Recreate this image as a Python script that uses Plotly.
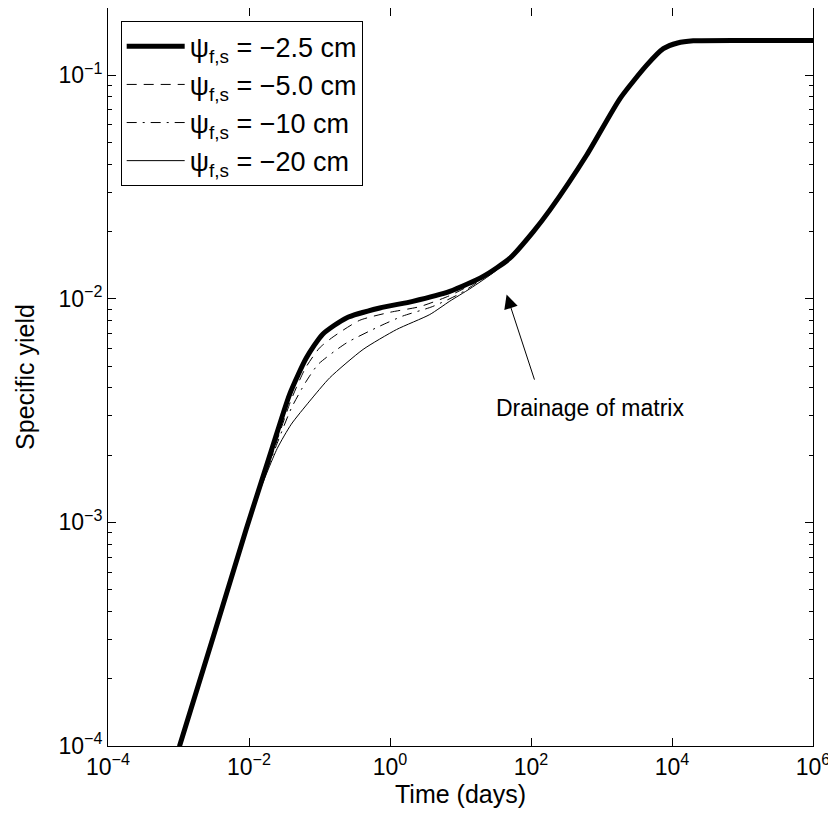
import plotly.graph_objects as go

# ---- data ----
series_names = [
    "ψ<sub>f,s</sub> = −2.5 cm",
    "ψ<sub>f,s</sub> = −5.0 cm",
    "ψ<sub>f,s</sub> = −10 cm",
    "ψ<sub>f,s</sub> = −20 cm",
]

time_early = [8.0e-4, 1.035e-3, 9.12e-3]
sy_early = [8.0e-5, 1.0e-4, 9.33e-4]

time_late = [186, 617, 1830, 4380, 7530, 12000, 20000, 100000, 1.0e6]
sy_late = [0.0250, 0.0440, 0.0787, 0.111, 0.1315, 0.1395, 0.1426, 0.1432, 0.1432]

time_thick = [0.0207, 0.0378, 0.0652, 0.111, 0.241, 0.716, 2.10, 7.06, 21.0, 50.2, 108]
sy_thick = [2.09e-3, 3.75e-3, 5.45e-3, 6.95e-3, 8.22e-3, 9.10e-3, 9.75e-3, 0.0108, 0.0126, 0.0152, 0.0200]

time_dash = [0.0126, 0.0251, 0.0398, 0.0631, 0.1, 0.156, 0.372, 1.0, 2.64, 7.08, 20.0, 50.1, 108]
sy_dash = [1.26e-3, 2.34e-3, 3.55e-3, 4.90e-3, 6.03e-3, 6.76e-3, 8.02e-3, 8.71e-3, 9.23e-3, 0.01035, 0.0123, 0.01507, 0.0200]

time_dashdot = [0.0126, 0.0251, 0.0398, 0.0631, 0.0955, 0.241, 0.716, 1.52, 3.98, 10.0, 25.1, 63.1, 126]
sy_dashdot = [1.26e-3, 2.26e-3, 3.24e-3, 4.22e-3, 5.09e-3, 6.35e-3, 7.55e-3, 8.38e-3, 9.23e-3, 0.01059, 0.01288, 0.0164, 0.0211]

time_thin = [0.0126, 0.0251, 0.0398, 0.0726, 0.140, 0.415, 1.236, 3.67, 7.06, 13.6, 31.6, 63.1, 126]
sy_thin = [1.26e-3, 2.14e-3, 2.75e-3, 3.49e-3, 4.44e-3, 5.94e-3, 7.29e-3, 8.51e-3, 9.77e-3, 0.0111, 0.01334, 0.0164, 0.0214]

x_tick_vals = [1e-4, 1e-2, 1e0, 1e2, 1e4, 1e6]
x_tick_text = ["10<sup>−4</sup>", "10<sup>−2</sup>", "10<sup>0</sup>", "10<sup>2</sup>", "10<sup>4</sup>", "10<sup>6</sup>"]
y_tick_vals = [1e-4, 1e-3, 1e-2, 1e-1]
y_tick_text = ["10<sup>−4</sup>", "10<sup>−3</sup>", "10<sup>−2</sup>", "10<sup>−1</sup>"]

x_range_exp = [-4, 6]
y_range_exp = [-4, -0.69897]

FONT = "Liberation Sans, Arial, Helvetica, sans-serif"

def full(t_mid, s_mid):
    return time_early + t_mid + time_late, sy_early + s_mid + sy_late

fig = go.Figure()
styles = [
    dict(width=5, dash="solid"),
    dict(width=1, dash="10px,7px"),
    dict(width=1, dash="10px,6px,2px,6px"),
    dict(width=1, dash="solid"),
]
mids = [(time_thick, sy_thick), (time_dash, sy_dash), (time_dashdot, sy_dashdot), (time_thin, sy_thin)]
for name, st, (tm, sm) in zip(series_names, styles, mids):
    t, s = full(tm, sm)
    fig.add_trace(go.Scatter(
        x=t, y=s, mode="lines", name=name,
        line=dict(color="black", width=st["width"], dash=st["dash"], shape="spline", smoothing=0.6),
    ))

fig.add_annotation(
    x=1.654, y=-1.981, ax=2.056, ay=-2.368, xref="x", yref="y", axref="x", ayref="y",
    text="", showarrow=True, arrowhead=2, arrowsize=2.8, arrowwidth=1, arrowcolor="black",
)
fig.add_annotation(
    x=2.837, y=-2.488, xref="x", yref="y", text="Drainage of matrix", showarrow=False,
    font=dict(family=FONT, size=23, color="black"),
)

axis_common = dict(
    type="log", showgrid=False, zeroline=False, showline=True, linecolor="black", linewidth=1,
    mirror="ticks", ticks="inside", ticklen=8, tickcolor="black", tickwidth=1, automargin=False,
    tickfont=dict(family=FONT, size=23, color="black"),
)
fig.update_xaxes(**axis_common, range=x_range_exp, tickmode="array",
                 tickvals=x_tick_vals, ticktext=x_tick_text,
                 title=dict(text="Time (days)", font=dict(family=FONT, size=25, color="black"), standoff=6))
fig.update_yaxes(**axis_common, range=y_range_exp, tickmode="array",
                 tickvals=y_tick_vals, ticktext=y_tick_text,
                 minor=dict(ticks="inside", ticklen=4, dtick="D1", tickcolor="black", showgrid=False),
                 title=dict(text="Specific yield", font=dict(family=FONT, size=25, color="black"), standoff=16))

# the page body adds an 8px offset, so the figure is sized/margined to compensate
fig.update_layout(
    width=828, height=820,
    margin=dict(l=100, r=23, t=0, b=82),
    paper_bgcolor="white", plot_bgcolor="white",
    font=dict(family=FONT, size=23, color="black"),
    legend=dict(x=0.018, y=0.982, xanchor="left", yanchor="top",
                bordercolor="black", borderwidth=1, bgcolor="white", itemwidth=58,
                font=dict(family=FONT, size=27, color="black"), tracegroupgap=0),
)

fig.write_html("out.html")
